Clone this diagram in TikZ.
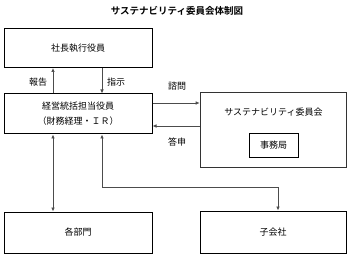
\documentclass[tikz,border=0pt]{standalone}
\usepackage{fontspec}
\setmainfont{Noto Sans CJK JP}[BoldFont={* Bold}]
\usepackage{tikz}
\usetikzlibrary{positioning}
\usetikzlibrary{arrows.meta}

\begin{document}
\begin{tikzpicture}[
x=1pt, y=1pt,
box/.style={
  rectangle,
  draw=black,
  line width=1pt,
  minimum width=148pt,
  minimum height=39pt,
  inner sep=2pt,
  font=\fontsize{9}{15}\selectfont,
  align=center
},
  committee/.style={
    rectangle,
    draw=black!80,
    line width=1.6pt,
    minimum width=146pt,
    minimum height=75pt
  },
  office/.style={
    rectangle,
    draw=black,
    line width=0.9pt,
    minimum width=49pt,
    minimum height=24pt,
    font=\fontsize{9}{11}\selectfont
  },
  lbl/.style={font=\fontsize{9}{11}\selectfont},
  arr/.style={-{Latex[length=4pt,width=3.5pt]}, line width=0.7pt, black!70},
  dblarr/.style={{Latex[length=4pt,width=3.5pt]}-{Latex[length=4pt,width=3.5pt]}, line width=0.7pt, black!70}
]
\useasboundingbox (0,0) rectangle (350,257);

% ---- title ----
\node[font=\fontsize{9.5}{11}\selectfont\bfseries] (title) at (177,246) {サステナビリティ委員会体制図};

% ---- left column ----
\node[box] (shacho) at (78,209) {社長執行役員};
\node[box, minimum height=40pt] (keiei) at (78,143) {経営統括担当役員\\（財務経理・ＩＲ）};
\node[box, minimum height=41pt] (bumon) at (78,24.5) {各部門};

% ---- right column ----
\node[committee] (iinkai) at (273.5,127) {};
\node[lbl] (iinkaitxt) at (273.5,145) {サステナビリティ委員会};
\node[office] (jimu) at (273.5,112) {事務局};
\node[box, minimum width=146pt, minimum height=42pt] (kogaisha) at (273,25) {子会社};

% ---- connectors ----
\draw[arr] ([xshift=-25pt]keiei.north) -- ([xshift=-25pt]shacho.south);
\draw[arr] ([xshift=24pt]shacho.south) -- ([xshift=24pt]keiei.north);
\node[lbl] (hokoku) at (38,175) {報告};
\node[lbl] (shiji) at (116,175) {指示};

\draw[arr] ([yshift=11pt]keiei.east) -- ([yshift=11pt]keiei.east -| iinkai.west);
\draw[arr] ([yshift=-12pt]keiei.east -| iinkai.west) -- ([yshift=-12pt]keiei.east);
\node[lbl] (shimon) at (177,171) {諮問};
\node[lbl] (toshin) at (177,115) {答申};

\draw[dblarr] ([xshift=-25pt]keiei.south) -- ([xshift=-25pt]bumon.north);
\coordinate (bend) at (278,70);
\draw[dblarr] ([xshift=24pt]keiei.south) |- (bend) -- (bend |- kogaisha.north);

\end{tikzpicture}
\end{document}
